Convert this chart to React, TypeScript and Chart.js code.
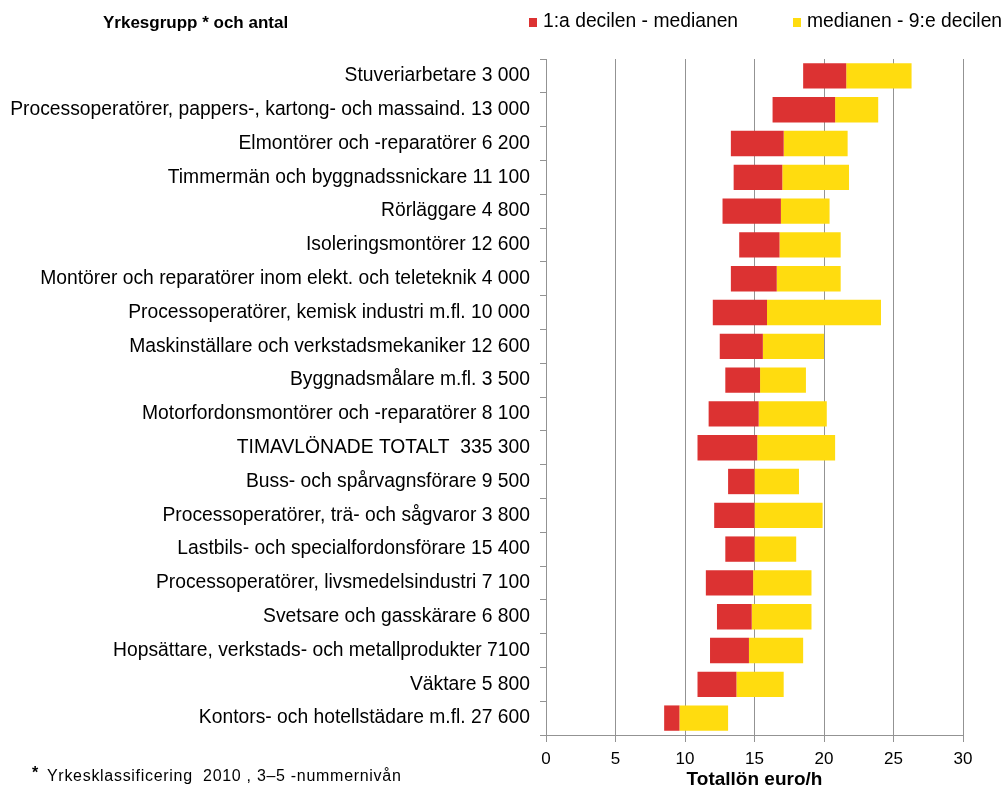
import React, { useEffect, useRef } from "react";
import { Chart, registerables } from "chart.js";

Chart.register(...registerables);

const categories = [
  "Stuveriarbetare 3 000",
  "Processoperatörer, pappers-, kartong- och massaind. 13 000",
  "Elmontörer och -reparatörer 6 200",
  "Timmermän och byggnadssnickare 11 100",
  "Rörläggare 4 800",
  "Isoleringsmontörer 12 600",
  "Montörer och reparatörer inom elekt. och teleteknik 4 000",
  "Processoperatörer, kemisk industri m.fl. 10 000",
  "Maskinställare och verkstadsmekaniker 12 600",
  "Byggnadsmålare m.fl. 3 500",
  "Motorfordonsmontörer och -reparatörer 8 100",
  "TIMAVLÖNADE TOTALT  335 300",
  "Buss- och spårvagnsförare 9 500",
  "Processoperatörer, trä- och sågvaror 3 800",
  "Lastbils- och specialfordonsförare 15 400",
  "Processoperatörer, livsmedelsindustri 7 100",
  "Svetsare och gasskärare 6 800",
  "Hopsättare, verkstads- och metallprodukter 7100",
  "Väktare 5 800",
  "Kontors- och hotellstädare m.fl. 27 600",
];

const decile1 = [18.5, 16.3, 13.3, 13.5, 12.7, 13.9, 13.3, 12.0, 12.5, 12.9, 11.7, 10.9, 13.1, 12.1, 12.9, 11.5, 12.3, 11.8, 10.9, 8.5];
const median = [21.6, 20.8, 17.1, 17.0, 16.9, 16.8, 16.6, 15.9, 15.6, 15.4, 15.3, 15.2, 15.0, 15.0, 15.0, 14.9, 14.8, 14.6, 13.7, 9.6];
const decile9 = [26.3, 23.9, 21.7, 21.8, 20.4, 21.2, 21.2, 24.1, 20.0, 18.7, 20.2, 20.8, 18.2, 19.9, 18.0, 19.1, 19.1, 18.5, 17.1, 13.1];

const seriesLabels = ["1:a decilen - medianen", "medianen - 9:e decilen"];
const xTicks = [0, 5, 10, 15, 20, 25, 30];

const RED = "#DC3232";
const YELLOW = "#FFDC0F";
const GRID = "#939393";
const FONT = "'Liberation Sans', Arial, sans-serif";

const extrasPlugin = {
  id: "extras",
  afterDraw(chart: any) {
    const ctx = chart.ctx as any;
    const area = chart.chartArea;
    ctx.save();
    ctx.fillStyle = "#000";
    ctx.textAlign = "left";
    ctx.textBaseline = "alphabetic";

    // header
    ctx.font = `bold 17px ${FONT}`;
    ctx.fillText("Yrkesgrupp * och antal", 103, 28);

    // legend
    const legendPos = [529, 793];
    chart.data.datasets.forEach((ds: any, i: number) => {
      const x = legendPos[i];
      ctx.fillStyle = ds.backgroundColor;
      ctx.fillRect(x, 18, 8, 9);
      ctx.fillStyle = "#000";
      ctx.font = `19.3px ${FONT}`;
      ctx.fillText(ds.label, x + 14, 27);
    });

    // x axis title
    ctx.font = `bold 19px ${FONT}`;
    ctx.textAlign = "center";
    ctx.fillText("Totallön euro/h", (area.left + area.right) / 2, 785);

    // footnote
    ctx.textAlign = "left";
    ctx.font = `bold 16px ${FONT}`;
    ctx.fillText("*", 32, 778);
    ctx.font = `16px ${FONT}`;
    if ("letterSpacing" in ctx) ctx.letterSpacing = "0.7px";
    ctx.fillText("Yrkesklassificering  2010 , 3–5 -nummernivån", 47, 781);
    ctx.restore();
  },
};

export default function App() {
  const canvasRef = useRef<HTMLCanvasElement | null>(null);

  useEffect(() => {
    if (!canvasRef.current) return;
    const chart = new Chart(canvasRef.current, {
      type: "bar",
      data: {
        labels: categories,
        datasets: [
          {
            label: seriesLabels[0],
            data: categories.map((_, i) => [decile1[i], median[i]]),
            backgroundColor: RED,
            borderWidth: 0,
            grouped: false,
            barPercentage: 0.75,
            categoryPercentage: 1,
          } as any,
          {
            label: seriesLabels[1],
            data: categories.map((_, i) => [median[i], decile9[i]]),
            backgroundColor: YELLOW,
            borderWidth: 0,
            grouped: false,
            barPercentage: 0.75,
            categoryPercentage: 1,
          } as any,
        ],
      },
      options: {
        indexAxis: "y",
        responsive: true,
        maintainAspectRatio: false,
        animation: false,
        layout: { padding: { top: 59, right: 40, bottom: 0, left: 0 } },
        plugins: {
          legend: { display: false },
          tooltip: { enabled: false },
          title: { display: false },
        },
        scales: {
          x: {
            type: "linear",
            min: 0,
            max: 30,
            afterBuildTicks: (scale: any) => {
              scale.ticks = xTicks.map((v) => ({ value: v }));
            },
            afterFit: (scale: any) => {
              scale.height = 54;
            },
            ticks: {
              font: { family: FONT, size: 17 },
              color: "#000",
              padding: 7,
            },
            grid: {
              color: GRID,
              lineWidth: 1,
              drawTicks: true,
              tickLength: 7,
              tickColor: GRID,
            },
            border: { color: GRID, width: 1 },
          },
          y: {
            type: "category",
            afterFit: (scale: any) => {
              scale.width = 546;
            },
            ticks: {
              font: { family: FONT, size: 19.3 },
              color: "#000",
              padding: 10,
              autoSkip: false,
            },
            grid: {
              display: true,
              drawOnChartArea: false,
              drawTicks: true,
              tickLength: 6,
              offset: true,
              color: GRID,
            },
            border: { color: GRID, width: 1 },
          },
        },
      } as any,
      plugins: [extrasPlugin],
    });
    return () => chart.destroy();
  }, []);

  return (
    <div style={{ position: "absolute", left: 0, top: 0, width: 1003, height: 789, background: "#fff" }}>
      <canvas ref={canvasRef} />
    </div>
  );
}
